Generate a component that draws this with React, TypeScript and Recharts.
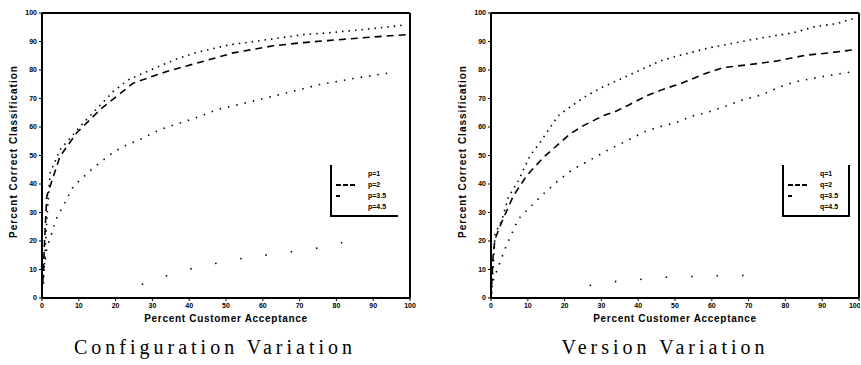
import { LineChart, Line, XAxis, YAxis, ReferenceLine } from 'recharts';

const xTicks = [0, 10, 20, 30, 40, 50, 60, 70, 80, 90, 100];
const yTicks = [0, 10, 20, 30, 40, 50, 60, 70, 80, 90, 100];

// Configuration Variation
const configA = [
  { x: 0.4, y: 5 }, { x: 1.3, y: 27.5 }, { x: 2.2, y: 43.9 }, { x: 4.9, y: 52 }, { x: 11.2, y: 61.4 },
  { x: 19.4, y: 72.5 }, { x: 23.5, y: 76.6 }, { x: 27.5, y: 78.9 }, { x: 36.6, y: 83.9 }, { x: 41.6, y: 86 },
  { x: 51.1, y: 88.9 }, { x: 56.5, y: 89.8 }, { x: 66.5, y: 91.6 }, { x: 71, y: 92.4 }, { x: 79.2, y: 93.2 },
  { x: 87.3, y: 94.2 }, { x: 95.5, y: 95.3 }, { x: 99.1, y: 95.9 },
];
const configB = [
  { x: 0.2, y: 5.3 }, { x: 0.8, y: 22.8 }, { x: 1.3, y: 35.7 }, { x: 4.9, y: 49.7 }, { x: 9.4, y: 57.9 },
  { x: 15.8, y: 66.1 }, { x: 24.8, y: 75.4 }, { x: 33.9, y: 79.5 }, { x: 42.9, y: 82.7 }, { x: 52, y: 86 },
  { x: 62.9, y: 88.5 }, { x: 70.1, y: 89.5 }, { x: 78.3, y: 90.4 }, { x: 89.1, y: 91.5 }, { x: 99.1, y: 92.4 },
];
const configC = [
  { x: 0, y: 4.7 }, { x: 1.3, y: 17.5 }, { x: 4, y: 28.1 }, { x: 6.3, y: 33.6 }, { x: 8.5, y: 39.2 },
  { x: 13.9, y: 45.6 }, { x: 18.5, y: 50.3 }, { x: 22.1, y: 53.2 }, { x: 26.6, y: 55.6 }, { x: 32.1, y: 59.1 },
  { x: 37.5, y: 61.4 }, { x: 42.9, y: 63.7 }, { x: 47.5, y: 66.1 }, { x: 56.5, y: 68.8 }, { x: 65.6, y: 71.7 },
  { x: 75.5, y: 74.9 }, { x: 85.5, y: 77.2 }, { x: 95.5, y: 79.2 },
];
const configD = [
  { x: 27.1, y: 4.7 }, { x: 30.7, y: 6.4 }, { x: 37.5, y: 9.4 }, { x: 46.6, y: 12 }, { x: 54.7, y: 14 },
  { x: 65.1, y: 15.8 }, { x: 70.6, y: 16.7 }, { x: 76.4, y: 17.8 }, { x: 87.8, y: 21.4 },
];
const configNames = ['p=1', 'p=2', 'p=3.5', 'p=4.5'];

// Version Variation
const versionA = [
  { x: 0.2, y: 1.5 }, { x: 1.1, y: 22.5 }, { x: 2.9, y: 27.2 }, { x: 4.7, y: 35.3 }, { x: 7.4, y: 41.1 },
  { x: 10.6, y: 49.9 }, { x: 13.6, y: 55.1 }, { x: 18.2, y: 63.9 }, { x: 21.9, y: 67.4 }, { x: 25.9, y: 70.9 },
  { x: 30, y: 73.8 }, { x: 35, y: 76.7 }, { x: 39.9, y: 79.6 }, { x: 45.8, y: 83.1 }, { x: 50.3, y: 84.8 },
  { x: 55.7, y: 86.6 }, { x: 59.3, y: 87.8 }, { x: 63.9, y: 88.9 }, { x: 71.1, y: 90.7 }, { x: 77.4, y: 92.1 },
  { x: 81.9, y: 93 }, { x: 88.3, y: 95.3 }, { x: 93.7, y: 96.2 }, { x: 99.1, y: 98.3 },
];
const versionB = [
  { x: 0, y: 0.3 }, { x: 0.6, y: 15.5 }, { x: 1.1, y: 20.7 }, { x: 2.9, y: 26.6 }, { x: 6.1, y: 35.9 },
  { x: 9.7, y: 42.9 }, { x: 14.2, y: 49.3 }, { x: 17.3, y: 52.8 }, { x: 21.4, y: 57.5 }, { x: 25, y: 60.4 },
  { x: 30.4, y: 63.9 }, { x: 34.1, y: 65.6 }, { x: 37.7, y: 67.9 }, { x: 42.2, y: 70.9 }, { x: 46.7, y: 73.2 },
  { x: 52.1, y: 75.5 }, { x: 57.5, y: 78.4 }, { x: 63, y: 80.8 }, { x: 70.2, y: 81.9 }, { x: 77.4, y: 83.1 },
  { x: 85.5, y: 85.2 }, { x: 91.9, y: 86 }, { x: 99.1, y: 87.2 },
];
const versionC = [
  { x: 0.6, y: 6.2 }, { x: 3.8, y: 17.2 }, { x: 7.4, y: 27.7 }, { x: 11.5, y: 33 }, { x: 13.7, y: 35.9 },
  { x: 18.2, y: 41.1 }, { x: 22.3, y: 45.2 }, { x: 27.3, y: 48.7 }, { x: 31.3, y: 51.6 }, { x: 37.7, y: 55.7 },
  { x: 42.2, y: 58.6 }, { x: 46.7, y: 60.4 }, { x: 50.3, y: 61.5 }, { x: 54.8, y: 63.9 }, { x: 58.4, y: 65 },
  { x: 63.9, y: 67.4 }, { x: 67.9, y: 69.3 }, { x: 73.8, y: 71.4 }, { x: 78.3, y: 74 }, { x: 82.8, y: 75.9 },
  { x: 89.2, y: 77.5 }, { x: 99.1, y: 79.6 },
];
const versionD = [
  { x: 26.8, y: 4.4 }, { x: 35.9, y: 6.2 }, { x: 37.7, y: 6.2 }, { x: 47.6, y: 7.3 }, { x: 63.9, y: 7.9 },
  { x: 68.8, y: 7.9 },
];
const versionNames = ['q=1', 'q=2', 'q=3.5', 'q=4.5'];

const dashes = ['1.5 5', '7 5', '1.5 7', '1.5 24'];
const legendDashes = ['0 100', '5 2', '4 100', '0 100'];

const tickStyle = { fontSize: 7, fontWeight: 'bold', fill: '#000', fontFamily: 'Arial' };
const frame = { stroke: '#000', strokeWidth: 2 };

const LegendBox = ({ names, right, left }) => (
  <div
    style={{
      position: 'absolute',
      left,
      top: 165,
      width: 68,
      height: 52,
      borderLeft: '2px solid #000',
      borderBottom: '2px solid #000',
      borderRight: right ? '2px solid #000' : 'none',
      boxSizing: 'border-box',
      fontFamily: 'Arial',
      fontSize: 7,
      fontWeight: 'bold',
      paddingTop: 3,
    }}
  >
    {names.map((n, i) => (
      <div key={n} style={{ display: 'flex', alignItems: 'center', height: 11 }}>
        <svg width={28} height={6} style={{ marginLeft: 4 }}>
          <line x1={0} y1={3} x2={20} y2={3} stroke="#000" strokeWidth={2} strokeDasharray={legendDashes[i]} />
        </svg>
        <span style={{ marginLeft: 4 }}>{n}</span>
      </div>
    ))}
  </div>
);

const Panel = ({ series, names, title, marginLeft, marginRight, legendLeft, rightBorder, yLabelX, titleOffset }) => (
  <div style={{ position: 'relative', width: 430, height: 365 }}>
    <LineChart
      width={430}
      height={365}
      margin={{ top: 13, right: marginRight, bottom: 47, left: marginLeft }}
    >
      <XAxis
        type="number"
        dataKey="x"
        domain={[0, 100]}
        ticks={xTicks}
        height={20}
        tick={tickStyle}
        tickSize={3}
        axisLine={frame}
        tickLine={{ stroke: '#000' }}
        allowDataOverflow
      />
      <YAxis
        type="number"
        domain={[0, 100]}
        ticks={yTicks}
        width={30}
        tick={tickStyle}
        tickSize={3}
        axisLine={frame}
        tickLine={{ stroke: '#000' }}
      />
      <ReferenceLine y={100} {...frame} />
      <ReferenceLine x={100} {...frame} />
      {series.map((d, i) => (
        <Line
          key={names[i]}
          data={d}
          dataKey="y"
          name={names[i]}
          type="linear"
          stroke="#000"
          strokeWidth={1.6}
          strokeDasharray={dashes[i]}
          dot={false}
          isAnimationActive={false}
        />
      ))}
    </LineChart>
    <LegendBox names={names} right={rightBorder} left={legendLeft} />
    <div
      style={{
        position: 'absolute',
        left: yLabelX - 100,
        top: 146,
        width: 200,
        textAlign: 'center',
        transform: 'rotate(-90deg)',
        fontFamily: 'Arial',
        fontSize: 10,
        letterSpacing: 1,
        fontWeight: 'bold',
      }}
    >
      Percent Correct Classification
    </div>
    <div
      style={{
        position: 'absolute',
        left: marginLeft + 30,
        width: 430 - marginLeft - 30 - marginRight,
        top: 313,
        textAlign: 'center',
        fontFamily: 'Arial',
        fontSize: 10,
        letterSpacing: 0.7,
        fontWeight: 'bold',
      }}
    >
      Percent Customer Acceptance
    </div>
    <div
      style={{
        position: 'absolute',
        left: titleOffset,
        width: 430,
        top: 336,
        textAlign: 'center',
        fontFamily: '"Liberation Serif", serif',
        fontSize: 20,
        letterSpacing: 4,
      }}
    >
      {title}
    </div>
  </div>
);

export default function App() {
  return (
    <div style={{ position: 'absolute', left: 0, top: 0, width: 861, height: 365, background: '#fff', display: 'flex' }}>
      <Panel
        series={[configA, configB, configC, configD]}
        names={configNames}
        title="Configuration Variation"
        marginLeft={12}
        marginRight={20}
        legendLeft={330}
        rightBorder={false}
        yLabelX={13}
        titleOffset={0}
      />
      <Panel
        series={[versionA, versionB, versionC, versionD]}
        names={versionNames}
        title="Version Variation"
        marginLeft={31}
        marginRight={1}
        legendLeft={352}
        rightBorder={true}
        yLabelX={32}
        titleOffset={20}
      />
    </div>
  );
}
